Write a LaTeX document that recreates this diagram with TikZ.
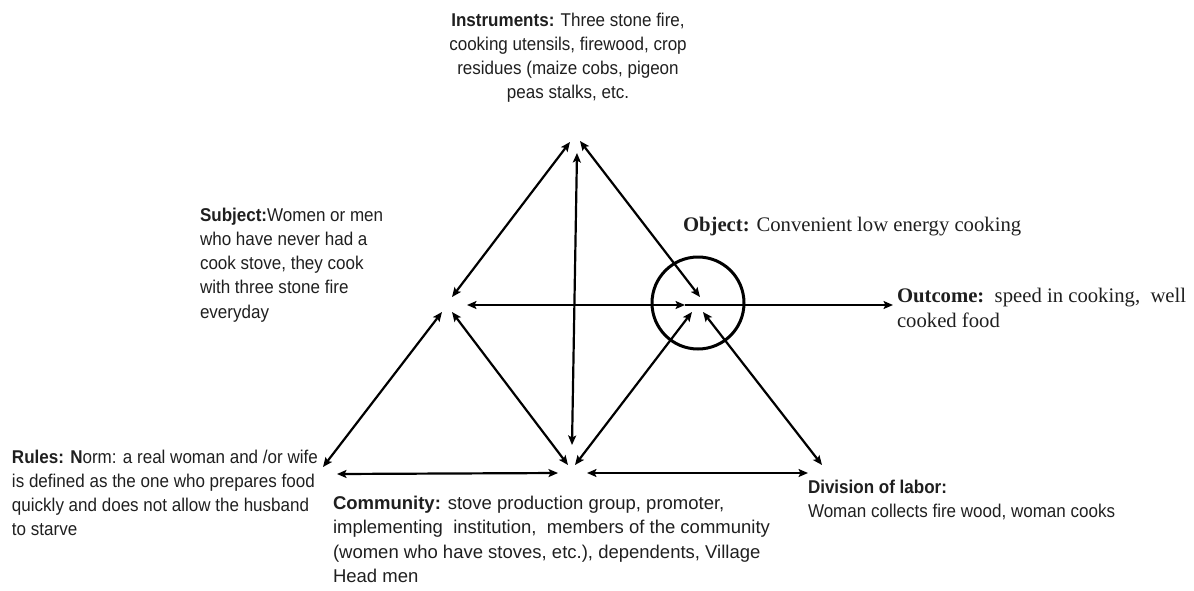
\documentclass[tikz,border=0pt]{standalone}
\usepackage{fontspec}
\setmainfont{Liberation Sans}[FakeStretch=0.92]
\newfontfamily\widesans{Liberation Sans}
\newfontfamily\timesfont{Liberation Serif}
\usetikzlibrary{arrows.meta}

\begin{document}
\begin{tikzpicture}[x=1pt,y=-1pt,
  tip/.tip={Stealth[length=9.5pt,width=8pt,inset=2pt]},
  link/.style={tip-tip, line width=2.2pt, black},
  onelink/.style={-tip, line width=2.2pt, black},
  label/.style={inner sep=0pt, outer sep=0pt, text=black!88,
    font=\fontsize{18.5}{24.2}\selectfont},
  wide label/.style={label, font=\widesans\fontsize{18.5}{24.2}\selectfont},
  serif label/.style={inner sep=0pt, outer sep=0pt, text=black!88,
    font=\timesfont\fontsize{20.7}{24.5}\selectfont},
]
\useasboundingbox (0,0) rectangle (1194,590);

% corner points of the activity triangles
\coordinate (s-n)  at (452,297);
\coordinate (s-e)  at (467,305);
\coordinate (s-sw) at (442,312);
\coordinate (s-se) at (452,312);
\coordinate (i-w)  at (570,142);
\coordinate (i-e)  at (580,141);
\coordinate (i-s)  at (577,153);
\coordinate (o-n)  at (700,297);
\coordinate (o-w)  at (685,305);
\coordinate (o-sw) at (692,312);
\coordinate (o-se) at (703,312);
\coordinate (c-n)  at (572,445);
\coordinate (c-nw) at (568,465);
\coordinate (c-ne) at (575,465);
\coordinate (c-w)  at (558,473);
\coordinate (c-e)  at (587,473);
\coordinate (r-ne) at (323,467);
\coordinate (r-e)  at (337,474);
\coordinate (d-nw) at (822,465);
\coordinate (d-w)  at (808,473);
\coordinate (out-w) at (893,305);

% object ring
\node[draw, circle, minimum size=92pt, line width=3pt, inner sep=0pt] (ring) at (698,303) {};

% connectors
\draw[link] (s-n) -- (i-w);
\draw[link] (i-e) -- (o-n);
\draw[link] (i-s) -- (c-n);
\draw[link] (s-e) -- (o-w);
\draw[onelink] (o-w) -- (out-w);
\draw[link] (s-sw) -- (r-ne);
\draw[link] (s-se) -- (c-nw);
\draw[link] (o-sw) -- (c-ne);
\draw[link] (o-se) -- (d-nw);
\draw[link] (r-e) -- (c-w);
\draw[link] (c-e) -- (d-w);

% texts
\node[label, anchor=north, align=center] (instr) at (568,12.8)
  {\textbf{Instruments:} Three stone fire,\\
   cooking utensils, firewood, crop\\
   residues (maize cobs, pigeon\\
   peas stalks, etc.};

\node[label, anchor=north west, align=left] (subject) at (200,207.8)
  {\textbf{Subject:}Women or men\\
   who have never had a\\
   cook stove, they cook\\
   with three stone fire\\
   everyday};

\node[serif label, anchor=north west, align=left] (object) at (683,217.5)
  {\textbf{Object:} Convenient low energy cooking};

\node[serif label, anchor=north west, align=left] (outcome) at (897,288.5)
  {\textbf{Outcome:}\ \ speed in cooking,\ \ well\\
   cooked food};

\node[label, anchor=north west, align=left] (rules) at (12,449.8)
  {\textbf{Rules: N}orm: a real woman and /or wife\\
   is defined as the one who prepares food\\
   quickly and does not allow the husband\\
   to starve};

\node[wide label, anchor=north west, align=left] (community) at (333,496.3)
  {\textbf{Community:} stove production group, promoter,\\
   implementing\ \ institution,\ \ members of the community\\
   (women who have stoves, etc.), dependents, Village\\
   Head men};

\node[label, anchor=north west, align=left] (division) at (808,480.3)
  {\textbf{Division of labor:}\\
   Woman collects fire wood, woman cooks};
\end{tikzpicture}
\end{document}
